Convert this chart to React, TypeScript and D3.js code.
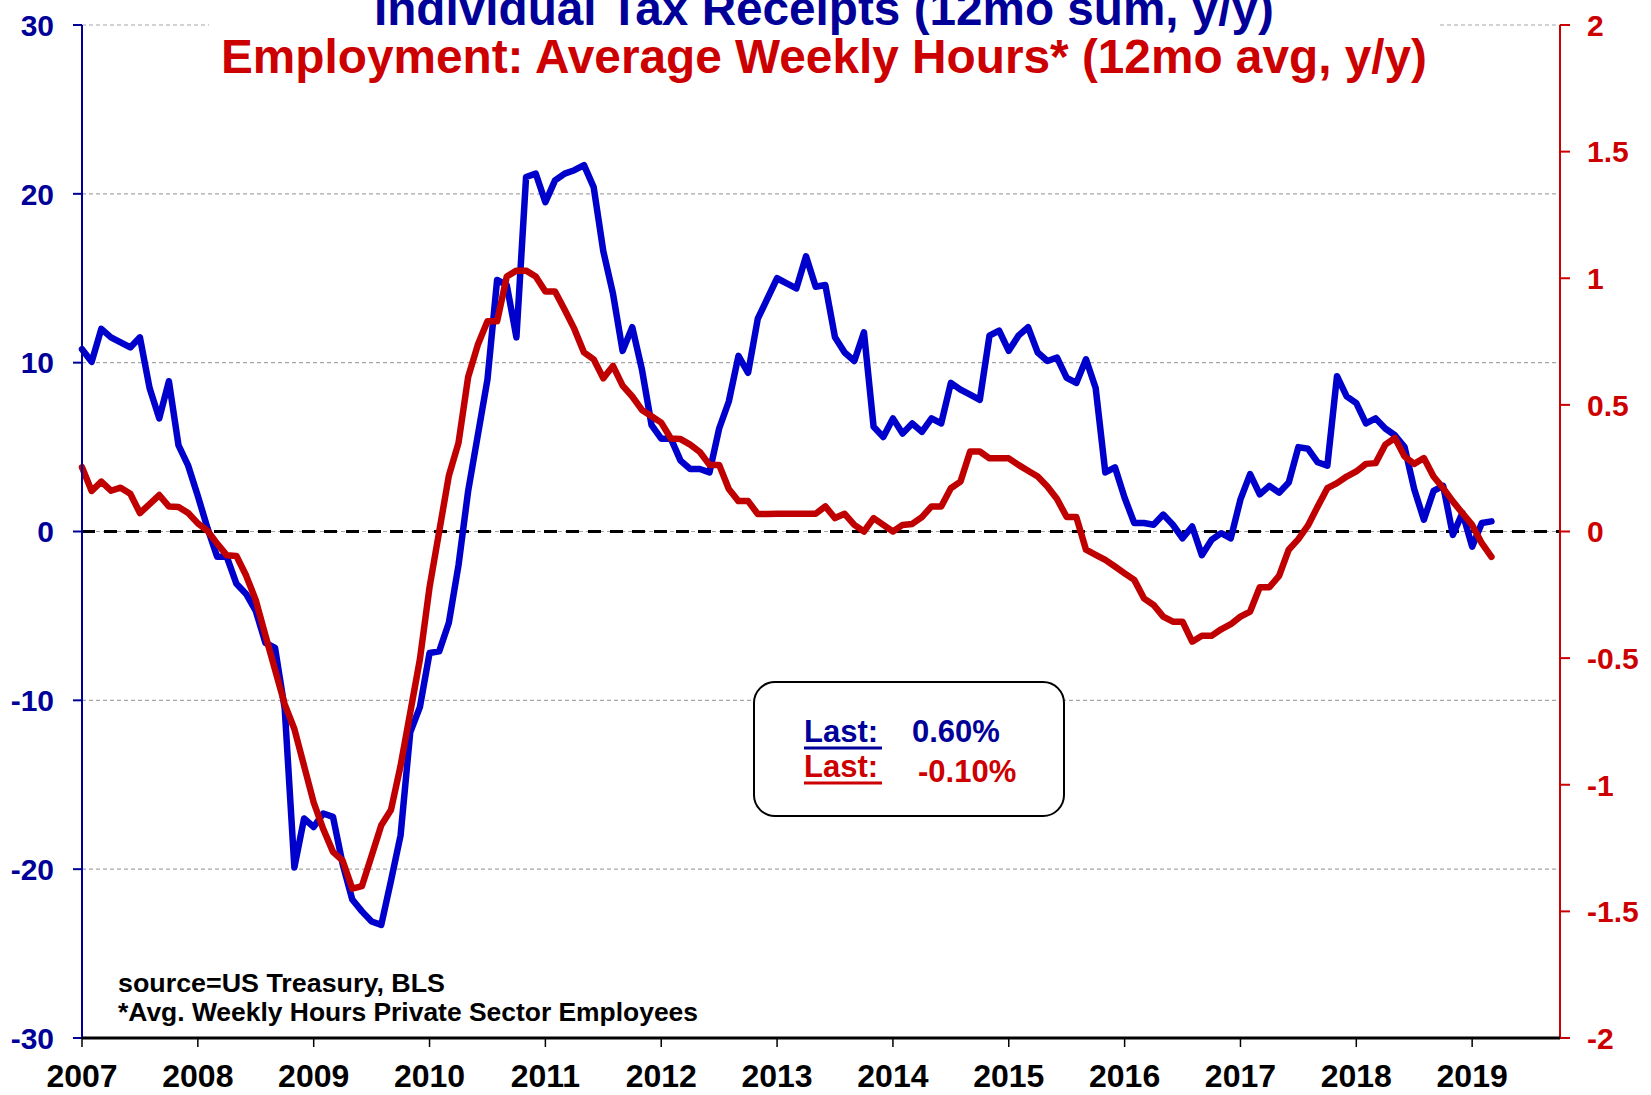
import React from "react";
import * as d3 from "d3";

// Individual tax receipts, 12mo sum, y/y % (monthly, Jan 2007 - Mar 2019)
const taxReceipts = [
  10.8, 10.05, 12.0, 11.5, 11.2, 10.9, 11.5, 8.5, 6.7, 8.9, 5.1, 3.9,
  2.1, 0.2, -1.5, -1.5, -3.1, -3.7, -4.7, -6.6, -6.9, -10.5, -19.9, -17.0,
  -17.5, -16.7, -16.9, -19.7, -21.8, -22.5, -23.1, -23.3, -20.7, -18.0, -11.9, -10.4,
  -7.2, -7.1, -5.4, -2.0, 2.4, 5.7, 9.0, 14.9, 14.6, 11.5, 21.0, 21.2,
  19.5, 20.8, 21.2, 21.4, 21.7, 20.4, 16.6, 14.1, 10.7, 12.1, 9.6, 6.3,
  5.5, 5.5, 4.2, 3.7, 3.7, 3.5, 6.1, 7.7, 10.4, 9.4, 12.6, 13.8,
  15.0, 14.7, 14.4, 16.3, 14.5, 14.6, 11.5, 10.6, 10.1, 11.8, 6.2, 5.6,
  6.7, 5.8, 6.4, 5.9, 6.7, 6.4, 8.8, 8.4, 8.1, 7.8, 11.6, 11.9,
  10.7, 11.6, 12.1, 10.6, 10.1, 10.3, 9.1, 8.8, 10.2, 8.5, 3.5, 3.8,
  2.0, 0.5, 0.5, 0.4, 1.0, 0.4, -0.4, 0.3, -1.4, -0.5, -0.1, -0.4,
  1.9, 3.4, 2.2, 2.7, 2.3, 2.9, 5.0, 4.9, 4.1, 3.9, 9.2, 8.0,
  7.6, 6.4, 6.7, 6.1, 5.7, 5.0, 2.5, 0.7, 2.4, 2.7, -0.2, 1.1,
  -0.9, 0.5, 0.6,
];

// Average weekly hours, 12mo avg, y/y % (monthly, Jan 2007 - Mar 2019)
const weeklyHours = [
  0.254, 0.16, 0.197, 0.161, 0.173, 0.149, 0.073, 0.108, 0.144, 0.099, 0.097, 0.073,
  0.032, 0.003, -0.048, -0.094, -0.097, -0.174, -0.271, -0.41, -0.546, -0.683, -0.78, -0.925,
  -1.07, -1.176, -1.265, -1.3, -1.41, -1.4, -1.28, -1.16, -1.1, -0.925, -0.715, -0.505,
  -0.22, 0.0, 0.22, 0.35, 0.61, 0.737, 0.83, 0.83, 1.007, 1.03, 1.03, 1.007,
  0.948, 0.948, 0.876, 0.8, 0.707, 0.68, 0.605, 0.654, 0.576, 0.533, 0.48, 0.455,
  0.43, 0.367, 0.365, 0.343, 0.314, 0.263, 0.263, 0.168, 0.12, 0.12, 0.069, 0.069,
  0.07, 0.07, 0.07, 0.07, 0.07, 0.099, 0.053, 0.07, 0.026, 0.0, 0.053, 0.026,
  0.0, 0.026, 0.03, 0.057, 0.099, 0.099, 0.171, 0.197, 0.316, 0.316, 0.289, 0.289,
  0.289, 0.263, 0.24, 0.217, 0.178, 0.128, 0.057, 0.057, -0.072, -0.092, -0.112, -0.138,
  -0.165, -0.191, -0.264, -0.29, -0.336, -0.356, -0.356, -0.435, -0.412, -0.412, -0.386, -0.366,
  -0.336, -0.316, -0.22, -0.22, -0.175, -0.072, -0.03, 0.024, 0.099, 0.171, 0.191, 0.217,
  0.237, 0.267, 0.27, 0.343, 0.369, 0.296, 0.267, 0.29, 0.217, 0.171, 0.119, 0.072,
  0.026, -0.046, -0.1,
];

const yearLabels = ["2007", "2008", "2009", "2010", "2011", "2012", "2013", "2014", "2015", "2016", "2017", "2018", "2019"];
const leftTicks = [-30, -20, -10, 0, 10, 20, 30];
const rightTicks = [-2, -1.5, -1, -0.5, 0, 0.5, 1, 1.5, 2];
const gridValues = [-20, -10, 0, 10, 20, 30];
const titleLine1 = "Individual Tax Receipts (12mo sum, y/y)";
const titleLine2 = "Employment: Average Weekly Hours* (12mo avg, y/y)";
const lastTax = "0.60%";
const lastHours = "-0.10%";
const sourceLines = ["source=US Treasury, BLS", "*Avg. Weekly Hours Private Sector Employees"];

const FONT = "'Liberation Sans', Arial, sans-serif";
const NAVY = "#000099";
const BLUE = "#0000CC";
const RED = "#C00000";
const RED_TEXT = "#CC0000";

export default function App() {
  const W = 1651;
  const H = 1095;
  const left = 82;
  const right = 1560;
  const top = 25;
  const bottom = 1038;

  const x = d3.scaleLinear().domain([0, 153.1]).range([left, right]);
  const yL = d3.scaleLinear().domain([-30, 30]).range([bottom, top]);
  const yR = d3.scaleLinear().domain([-2, 2]).range([bottom, top]);

  const blueLine = d3
    .line<number>()
    .x((_, i) => x(i))
    .y((d) => yL(d))(taxReceipts) as string;
  const redLine = d3
    .line<number>()
    .x((_, i) => x(i))
    .y((d) => yR(d))(weeklyHours) as string;

  return (
    <svg
      width={W}
      height={H}
      style={{ position: "absolute", left: 0, top: 0, background: "#fff" }}
      fontFamily={FONT}
    >
      <rect x={0} y={0} width={W} height={H} fill="#fff" />
      {/* gridlines */}
      {gridValues.map((v) => (
        <line
          key={"g" + v}
          x1={left}
          x2={right}
          y1={yL(v)}
          y2={yL(v)}
          stroke="#A6A6A6"
          strokeWidth={1.2}
          strokeDasharray="4 3"
        />
      ))}
      {/* zero line */}
      <line
        x1={left}
        x2={right}
        y1={yL(0)}
        y2={yL(0)}
        stroke="#000"
        strokeWidth={3}
        strokeDasharray="13 9"
      />
      {/* series */}
      <path d={blueLine} fill="none" stroke={BLUE} strokeWidth={6.5} strokeLinejoin="round" strokeLinecap="round" />
      <path d={redLine} fill="none" stroke={RED} strokeWidth={6.5} strokeLinejoin="round" strokeLinecap="round" />

      {/* title background */}
      <rect x={209} y={0} width={1228} height={92} fill="#fff" />
      <text x={824} y={25} textAnchor="middle" fontSize={48} fontWeight="bold" fill={NAVY} textLength={900} lengthAdjust="spacingAndGlyphs">
        {titleLine1}
      </text>
      <text x={824} y={73} textAnchor="middle" fontSize={48} fontWeight="bold" fill={RED_TEXT} textLength={1206} lengthAdjust="spacingAndGlyphs">
        {titleLine2}
      </text>

      {/* left axis */}
      <line x1={left} x2={left} y1={top} y2={bottom} stroke={NAVY} strokeWidth={2} />
      {leftTicks.map((v) => (
        <g key={"l" + v}>
          <line x1={left - 9} x2={left} y1={yL(v)} y2={yL(v)} stroke={NAVY} strokeWidth={2} />
          <text x={54} y={yL(v)} dy="0.36em" textAnchor="end" fontSize={30} fontWeight="bold" fill={NAVY}>
            {v}
          </text>
        </g>
      ))}

      {/* right axis */}
      <line x1={right} x2={right} y1={top} y2={bottom} stroke={RED_TEXT} strokeWidth={2} />
      {rightTicks.map((v) => (
        <g key={"r" + v}>
          <line x1={right} x2={right + 10} y1={yR(v)} y2={yR(v)} stroke={RED_TEXT} strokeWidth={2} />
          <text x={1587} y={yR(v)} dy="0.36em" textAnchor="start" fontSize={30} fontWeight="bold" fill={RED_TEXT}>
            {v}
          </text>
        </g>
      ))}

      {/* bottom axis */}
      <line x1={left} x2={right} y1={bottom} y2={bottom} stroke="#000" strokeWidth={3} />
      {yearLabels.map((lab, i) => (
        <g key={lab}>
          <line x1={x(i * 12)} x2={x(i * 12)} y1={bottom} y2={bottom + 9} stroke="#000" strokeWidth={1.5} />
          <text x={x(i * 12)} y={1087} textAnchor="middle" fontSize={32} fontWeight="bold" fill="#000">
            {lab}
          </text>
        </g>
      ))}

      {/* last-value box */}
      <rect x={754} y={682} width={310} height={134} rx={21} ry={21} fill="#fff" stroke="#000" strokeWidth={2} />
      <text x={804} y={742} fontSize={31} fontWeight="bold" fill={NAVY}>Last:</text>
      <line x1={804} x2={882} y1={748} y2={748} stroke={NAVY} strokeWidth={3} />
      <text x={912} y={742} fontSize={31} fontWeight="bold" fill={NAVY}>{lastTax}</text>
      <text x={804} y={777} fontSize={31} fontWeight="bold" fill={RED_TEXT}>Last:</text>
      <line x1={804} x2={882} y1={783} y2={783} stroke={RED_TEXT} strokeWidth={3} />
      <text x={918} y={782} fontSize={31} fontWeight="bold" fill={RED_TEXT}>{lastHours}</text>

      {/* source notes */}
      <text x={118} y={992} fontSize={26} fontWeight="bold" fill="#000" textLength={327} lengthAdjust="spacingAndGlyphs">{sourceLines[0]}</text>
      <text x={118} y={1021} fontSize={26} fontWeight="bold" fill="#000" textLength={580} lengthAdjust="spacingAndGlyphs">{sourceLines[1]}</text>
    </svg>
  );
}
